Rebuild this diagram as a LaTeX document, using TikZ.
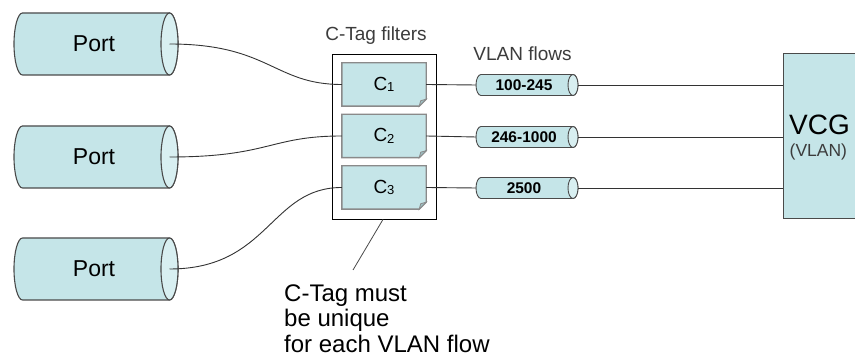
\documentclass[tikz,border=0pt]{standalone}
\usepackage{fontspec}
\setmainfont{Liberation Sans}
\definecolor{tealA}{HTML}{C5E5E8}
\definecolor{tealB}{HTML}{D8EFF1}
\definecolor{foldc}{HTML}{9CBEC1}
\definecolor{edgec}{HTML}{4A4A4A}
\definecolor{cedge}{HTML}{8A8A8A}
\definecolor{txtgray}{HTML}{3C3C3C}
\newcommand{\hcyl}[6]{%
  \filldraw[#6] (#2,#3+#5) -- (#1,#3+#5)
     arc[start angle=90,end angle=270,x radius=#4pt,y radius=#5pt]
     -- (#2,#3-#5)
     arc[start angle=-90,end angle=90,x radius=#4pt,y radius=#5pt] -- cycle;
  \filldraw[#6,fill=tealB] (#2,#3) ellipse[x radius=#4pt,y radius=#5pt];
}
\newcommand{\cfold}[1]{%
  \filldraw[cbord] (#1.north west) -- (#1.north east) -- ([yshift=7pt]#1.south east)
     -- ([xshift=-7pt]#1.south east) -- (#1.south west) -- cycle;
  \filldraw[cbord,fill=foldc,line width=0.8pt] ([yshift=7pt]#1.south east) -- ([xshift=-7pt]#1.south east)
     -- ([xshift=-5.5pt,yshift=5.5pt]#1.south east) -- cycle;
}
\tikzset{
  portcyl/.style={fill=tealA,draw=edgec,line width=1.1pt},
  flowcyl/.style={fill=tealA,draw=edgec,line width=0.9pt},
  cbord/.style={fill=tealA,draw=cedge,line width=1.4pt},
  cnode/.style={minimum width=84pt,minimum height=43pt,inner sep=0pt,font=\fontsize{19}{19}\selectfont},
  porttext/.style={font=\fontsize{23}{23}\selectfont,inner sep=0pt},
  flowtext/.style={font=\bfseries\fontsize{15.5}{15.5}\selectfont,inner sep=0pt},
  wire/.style={draw=black!80,line width=0.9pt},
  graytext/.style={text=txtgray,font=\fontsize{19}{19}\selectfont,inner sep=0pt},
}
\newcommand{\csub}[1]{C\raisebox{-1.5pt}{\fontsize{13}{13}\selectfont #1}}
\begin{document}
\begin{tikzpicture}[x=1pt,y=1pt]
\useasboundingbox (0,0) rectangle (855,358);
\fill[white] (0,0) rectangle (855,358);

% Ports
\hcyl{22.5}{169.5}{314}{8.5}{31}{portcyl}
\hcyl{22.5}{169.5}{201}{8.5}{31}{portcyl}
\hcyl{22.5}{169.5}{89}{8.5}{31}{portcyl}
\node[porttext] (p1) at (94,314) {Port};
\node[porttext] (p2) at (94,201) {Port};
\node[porttext] (p3) at (94,89) {Port};
\coordinate (p1e) at (169.5,314);
\coordinate (p2e) at (169.5,201);
\coordinate (p3e) at (169.5,89);

% C-Tag filter box
\node[draw=black,line width=0.9pt,fill=white,minimum width=104pt,minimum height=165pt,inner sep=0pt] (filt) at (384,221.5) {};
\node[graytext] (filtlab) at (376,322.5) {C-Tag filters};

\node[cnode] (c1) at (384,273.5) {};
\node[cnode] (c2) at (384,222) {};
\node[cnode] (c3) at (384,170.5) {};
\cfold{c1}\cfold{c2}\cfold{c3}
\node[cnode] at (c1) {\csub{1}};
\node[cnode] at (c2) {\csub{2}};
\node[cnode] at (c3) {\csub{3}};

% VLAN flows
\node[graytext] (flowlab) at (522.5,304.5) {VLAN flows};
\hcyl{481}{573}{273}{5}{10.5}{flowcyl}
\hcyl{481}{573}{221}{5}{10.5}{flowcyl}
\hcyl{481}{573}{170}{5}{10.5}{flowcyl}
\node[flowtext] (f1) at (524,273) {100-245};
\node[flowtext] (f2) at (524,221) {246-1000};
\node[flowtext] (f3) at (524,170) {2500};
\coordinate (f1l) at (476,273); \coordinate (f1r) at (578,273);
\coordinate (f2l) at (476,221); \coordinate (f2r) at (578,221);
\coordinate (f3l) at (476,170); \coordinate (f3r) at (578,170);

% VCG
\node[fill=tealA,draw=edgec,line width=1pt,minimum width=90pt,minimum height=165pt,inner sep=0pt] (vcg) at (828,221.5) {};
\node[anchor=base west,inner sep=0pt,font=\fontsize{28}{28}\selectfont] (vcgt) at (789,223) {VCG};
\node[anchor=base west,inner sep=0pt,text=txtgray,font=\fontsize{17.5}{17.5}\selectfont] (vcgs) at (789.5,201.5) {(VLAN)};

% wires
\draw[wire] (p1e) .. controls ([xshift=100pt]p1e) and ([xshift=-68pt]c1.west) .. (c1.west);
\draw[wire] (p2e) .. controls ([xshift=100pt]p2e) and ([xshift=-72pt]c2.west) .. (c2.west);
\draw[wire] (p3e) .. controls ([xshift=100pt]p3e) and ([xshift=-72pt]c3.west) .. (c3.west);
\draw[wire] (c1.east) -- (f1l);
\draw[wire] (c2.east) -- (f2l);
\draw[wire] (c3.east) -- (f3l);
\draw[wire] (f1r) -- (vcg.west |- f1r);
\draw[wire] (f2r) -- (vcg.west |- f2r);
\draw[wire] (f3r) -- (vcg.west |- f3r);

% callout
\coordinate (cl) at (353,88);
\draw[draw=edgec,line width=0.8pt] ([xshift=-1pt]filt.south) -- (cl);
\node[anchor=north west,align=left,inner sep=0pt,font=\fontsize{24}{25.5}\selectfont] (note) at (284,73.5)
  {C-Tag must\\be unique\\for each VLAN flow};
\end{tikzpicture}
\end{document}
